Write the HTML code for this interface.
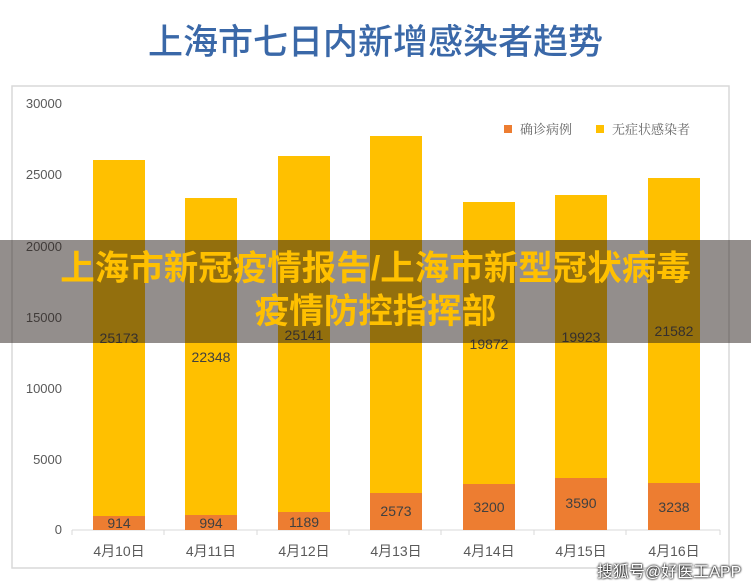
<!DOCTYPE html>
<html><head><meta charset="utf-8"><style>
body{margin:0;width:751px;height:584px;background:#fff;overflow:hidden;position:relative;font-family:"Liberation Sans","Noto Sans CJK SC",sans-serif}
.t{position:absolute;white-space:nowrap}
</style></head><body>
<div class="t" style="left:0;width:751px;top:14px;text-align:center;font-size:35px;color:#3a68a8;font-weight:500;letter-spacing:0px">上海市七日内新增感染者趋势</div>
<svg width="751" height="584" style="position:absolute;left:0;top:0">
<rect x="12" y="86" width="717" height="482" fill="none" stroke="#d9d9d9" stroke-width="1.5"/>
<g font-family="Liberation Sans,sans-serif" font-size="13" fill="#595959" text-anchor="end">
<text x="62" y="108">30000</text><text x="62" y="179">25000</text><text x="62" y="251">20000</text>
<text x="62" y="322">15000</text><text x="62" y="393">10000</text><text x="62" y="464">5000</text><text x="62" y="534">0</text>
</g>
<line x1="72" y1="530" x2="720" y2="530" stroke="#d9d9d9"/>
<g stroke="#d9d9d9"><line x1="72" y1="530" x2="72" y2="535"/><line x1="164" y1="530" x2="164" y2="535"/><line x1="257" y1="530" x2="257" y2="535"/><line x1="349" y1="530" x2="349" y2="535"/><line x1="441" y1="530" x2="441" y2="535"/><line x1="534" y1="530" x2="534" y2="535"/><line x1="626" y1="530" x2="626" y2="535"/><line x1="720" y1="530" x2="720" y2="535"/></g>
<g fill="#ffc000">
<rect x="93" y="160" width="52" height="370"/><rect x="185" y="198" width="52" height="332"/><rect x="278" y="156" width="52" height="374"/><rect x="370" y="136" width="52" height="394"/><rect x="463" y="202" width="52" height="328"/><rect x="555" y="195" width="52" height="335"/><rect x="648" y="178" width="52" height="352"/>
</g>
<g fill="#ed7d31">
<rect x="93" y="516" width="52" height="14"/><rect x="185" y="515" width="52" height="15"/><rect x="278" y="512" width="52" height="18"/><rect x="370" y="493" width="52" height="37"/><rect x="463" y="484" width="52" height="46"/><rect x="555" y="478" width="52" height="52"/><rect x="648" y="483" width="52" height="47"/>
</g>
<g font-family="Liberation Sans,sans-serif" font-size="14" fill="#404040" text-anchor="middle">
<text x="119" y="528">914</text><text x="211" y="528">994</text><text x="304" y="527">1189</text><text x="396" y="516">2573</text><text x="489" y="512">3200</text><text x="581" y="508">3590</text><text x="674" y="512">3238</text>
<text x="119" y="343">25173</text><text x="211" y="362">22348</text><text x="304" y="340">25141</text><text x="489" y="349">19872</text><text x="581" y="342">19923</text><text x="674" y="336">21582</text>
</g>
<g font-family="Liberation Sans,Noto Sans CJK SC,sans-serif" font-size="14" fill="#595959" text-anchor="middle">
<text x="119" y="556">4月10日</text><text x="211" y="556">4月11日</text><text x="304" y="556">4月12日</text><text x="396" y="556">4月13日</text><text x="489" y="556">4月14日</text><text x="581" y="556">4月15日</text><text x="674" y="556">4月16日</text>
</g>
<rect x="504" y="125" width="8" height="8" fill="#ed7d31"/>
<text x="520" y="134" font-family="Noto Serif CJK SC,serif" font-size="13" fill="#666">确诊病例</text>
<rect x="596" y="125" width="8" height="8" fill="#ffc000"/>
<text x="612" y="134" font-family="Noto Serif CJK SC,serif" font-size="13" fill="#666">无症状感染者</text>
<rect x="0" y="240" width="751" height="103" fill="rgba(40,30,25,0.5)"/>
</svg>
<div class="t" style="left:0;width:751px;top:248px;text-align:center;font-size:34.5px;line-height:43px;font-weight:bold;color:#ffc000">上海市新冠疫情报告/上海市新型冠状病毒<br>疫情防控指挥部</div>
<div class="t" style="left:597px;top:558px;font-size:16px;color:#fff;text-shadow:0 0 2px #000,0 0 2px #000">搜狐号@好医工APP</div>
</body></html>
